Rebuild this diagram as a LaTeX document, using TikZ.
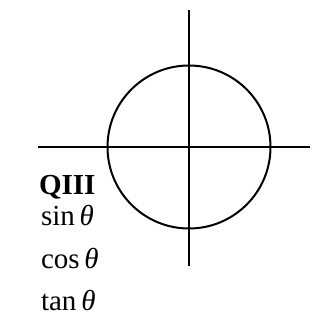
\documentclass[tikz,border=0pt]{standalone}
\usepackage{fontspec}
\setmainfont{Liberation Serif}
\begin{document}
\begin{tikzpicture}[x=1pt,y=-1pt,line width=2pt,
  lbl/.style={anchor=base west,inner sep=0pt,font=\fontsize{29}{32}\selectfont},
  ttl/.style={anchor=base west,inner sep=0pt,font=\fontsize{29}{32}\selectfont\bfseries}]
\useasboundingbox (0,0) rectangle (325,326);
\coordinate (hl) at (38,147);
\coordinate (hr) at (310,147);
\coordinate (vt) at (189,10);
\coordinate (vb) at (189,266);
\coordinate (c) at (189,147);
\draw (hl) -- (hr);
\draw (vt) -- (vb);
\draw (c) circle [radius=81.5];
\node[ttl] (q) at (38,194) {QIII};
\node[lbl] (s) at (40,225) {sin\,{\itshape θ}};
\node[lbl] (co) at (40,268) {cos\,{\itshape θ}};
\node[lbl] (t) at (40,310) {tan\,{\itshape θ}};
\end{tikzpicture}
\end{document}
